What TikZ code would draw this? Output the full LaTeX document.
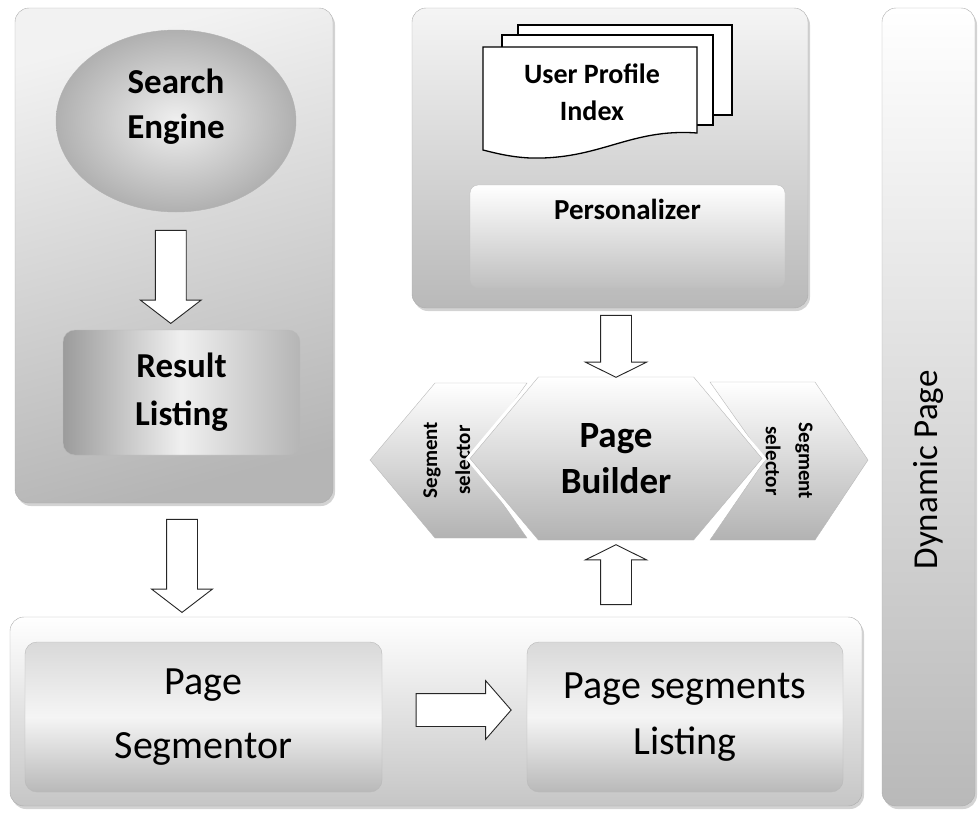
\documentclass[tikz,border=0pt]{standalone}
\usepackage{fontspec}
\usepackage{graphicx}
\setmainfont{Carlito}
\usetikzlibrary{arrows.meta,positioning,calc,shapes.geometric,shapes.symbols,shapes.arrows,shadows}
\tikzset{
  panel/.style={draw=gray!65, rounded corners=14pt, drop shadow={shadow xshift=2pt, shadow yshift=-3pt, opacity=0.35}},
  engine/.style={ellipse, draw=gray!60, inner color=gray!12, outer color=gray!62, minimum width=240pt, minimum height=182pt, font=\bfseries\fontsize{35}{45}\selectfont, align=center, text depth=34pt},
  resultbox/.style={draw=gray!55, rounded corners=12pt, left color=gray!78, right color=gray!58, middle color=gray!12, minimum width=237pt, minimum height=125pt, font=\bfseries\fontsize{35}{48}\selectfont, align=center},
  personal/.style={draw=gray!50, rounded corners=8pt, top color=white, bottom color=gray!50, minimum width=315pt, minimum height=103pt, text depth=55pt, font=\bfseries\fontsize{29}{33}\selectfont},
  builderbox/.style={signal, signal pointer angle=100, draw=gray!55, top color=white, bottom color=gray!60, inner sep=0pt},
  selshape/.style={draw=gray!55, top color=white, bottom color=gray!60},
  selfont/.style={font=\bfseries\fontsize{21}{33}\selectfont},
  segbox/.style={draw=gray!55, rounded corners=12pt, top color=gray!30, bottom color=gray!55, middle color=white!92!gray, minimum height=150pt, align=center},
  page/.style={draw=black, fill=white, line width=1.3pt},
  blockarrow/.style={single arrow, draw=gray!30!black, fill=white, line width=0.9pt, inner xsep=0pt, inner ysep=15pt, single arrow head extend=15pt}
}
\newcommand{\selectortext}[1]{\rotatebox{#1}{\begin{tabular}{@{}c@{}}Segment\\selector\end{tabular}}}

\begin{document}
\begin{tikzpicture}[x=1pt,y=-1pt]
  \useasboundingbox (0,0) rectangle (980,814);
  % panels
  \node[panel, top color=gray!10, bottom color=gray!58, shading angle=15, minimum width=318pt, minimum height=495pt] (leftpanel) at (174,255.5) {};
  \node[panel, top color=gray!8, bottom color=gray!55, minimum width=396pt, minimum height=300pt] (toppanel) at (610,158) {};
  \node[panel, top color=white, bottom color=gray!45, minimum width=852pt, minimum height=189pt] (botpanel) at (436,711.5) {};
  \node[panel, top color=white, bottom color=gray!55, minimum width=93pt, minimum height=798pt] (dyn) at (928.5,407) {};
  \node[rotate=90, font=\fontsize{35}{42}\selectfont] (dyntext) at ($(dyn.center)+(0,63)$) {Dynamic Page};

  % search side
  \node[engine] (engine) at (176,121) {Search\\Engine};
  \node[resultbox] (result) at (181.5,392.5) {Result\\Listing};

  % user profile pages
  \draw[page] (518,25) rectangle (732,115);
  \draw[page] (502,35) rectangle (713,125);
  \draw[page] (483,47) -- (697,47) -- (697,133)
    .. controls (630,128) and (600,160) .. (530,158)
    .. controls (510,157) and (495,153) .. (483,150) -- cycle;
  \node[font=\bfseries\fontsize{28}{37}\selectfont, align=center] (upi) at (592,92) {User Profile\\Index};
  \node[personal] (personal) at (627.5,236.5) {Personalizer};

  % page builder with the two selectors
  \draw[selshape] (527,383) -- (435,383) -- (370,460) -- (435,538) -- (527,538) -- (472,460) -- cycle;
  \draw[selshape] (710,382) -- (815,382) -- (868,460) -- (815,540) -- (710,540) -- (765,460) -- cycle;
  \node[selfont] (lsel) at (447,460) {\selectortext{90}};
  \node[selfont] (rsel) at (789,461) {\selectortext{-90}};
  \node[builderbox, signal to=west and east, minimum width=292pt, minimum height=163pt, preaction={draw=white, line width=7pt}, font=\bfseries\fontsize{37}{46}\selectfont, align=center] (builder) at (616,458.5) {Page\\Builder};

  % segmentation
  \node[segbox, minimum width=357pt, font=\fontsize{40}{64}\selectfont] (segmentor) at (203.5,717) {Page\\Segmentor};
  \node[segbox, minimum width=316pt, font=\fontsize{40}{56}\selectfont] (listing) at (685,717) {Page segments\\Listing};

  % block arrows
  \node[blockarrow, xshift=-8pt, rotate=-90, minimum height=93pt, single arrow tip angle=105] (a1) at ($(engine.south)!0.5!(result.north)$) {};
  \node[blockarrow, xshift=8pt, rotate=-90, minimum height=93pt, single arrow tip angle=105] (a2) at ($(leftpanel.south)!0.5!(leftpanel.south |- botpanel.north)$) {};
  \node[blockarrow, rotate=-90, minimum height=62pt, single arrow tip angle=127] (a3) at ($(builder.north |- toppanel.south)!0.5!(builder.north)$) {};
  \node[blockarrow, rotate=90, minimum height=60pt, single arrow tip angle=127] (a4) at ($(builder.south)!0.5!(builder.south |- botpanel.north)$) {};
  \node[blockarrow, xshift=2pt, yshift=7pt, minimum height=95pt, inner ysep=16pt, single arrow head extend=13pt, single arrow tip angle=98] (a5) at ($(segmentor.east)!0.5!(listing.west)$) {};
\end{tikzpicture}
\end{document}
